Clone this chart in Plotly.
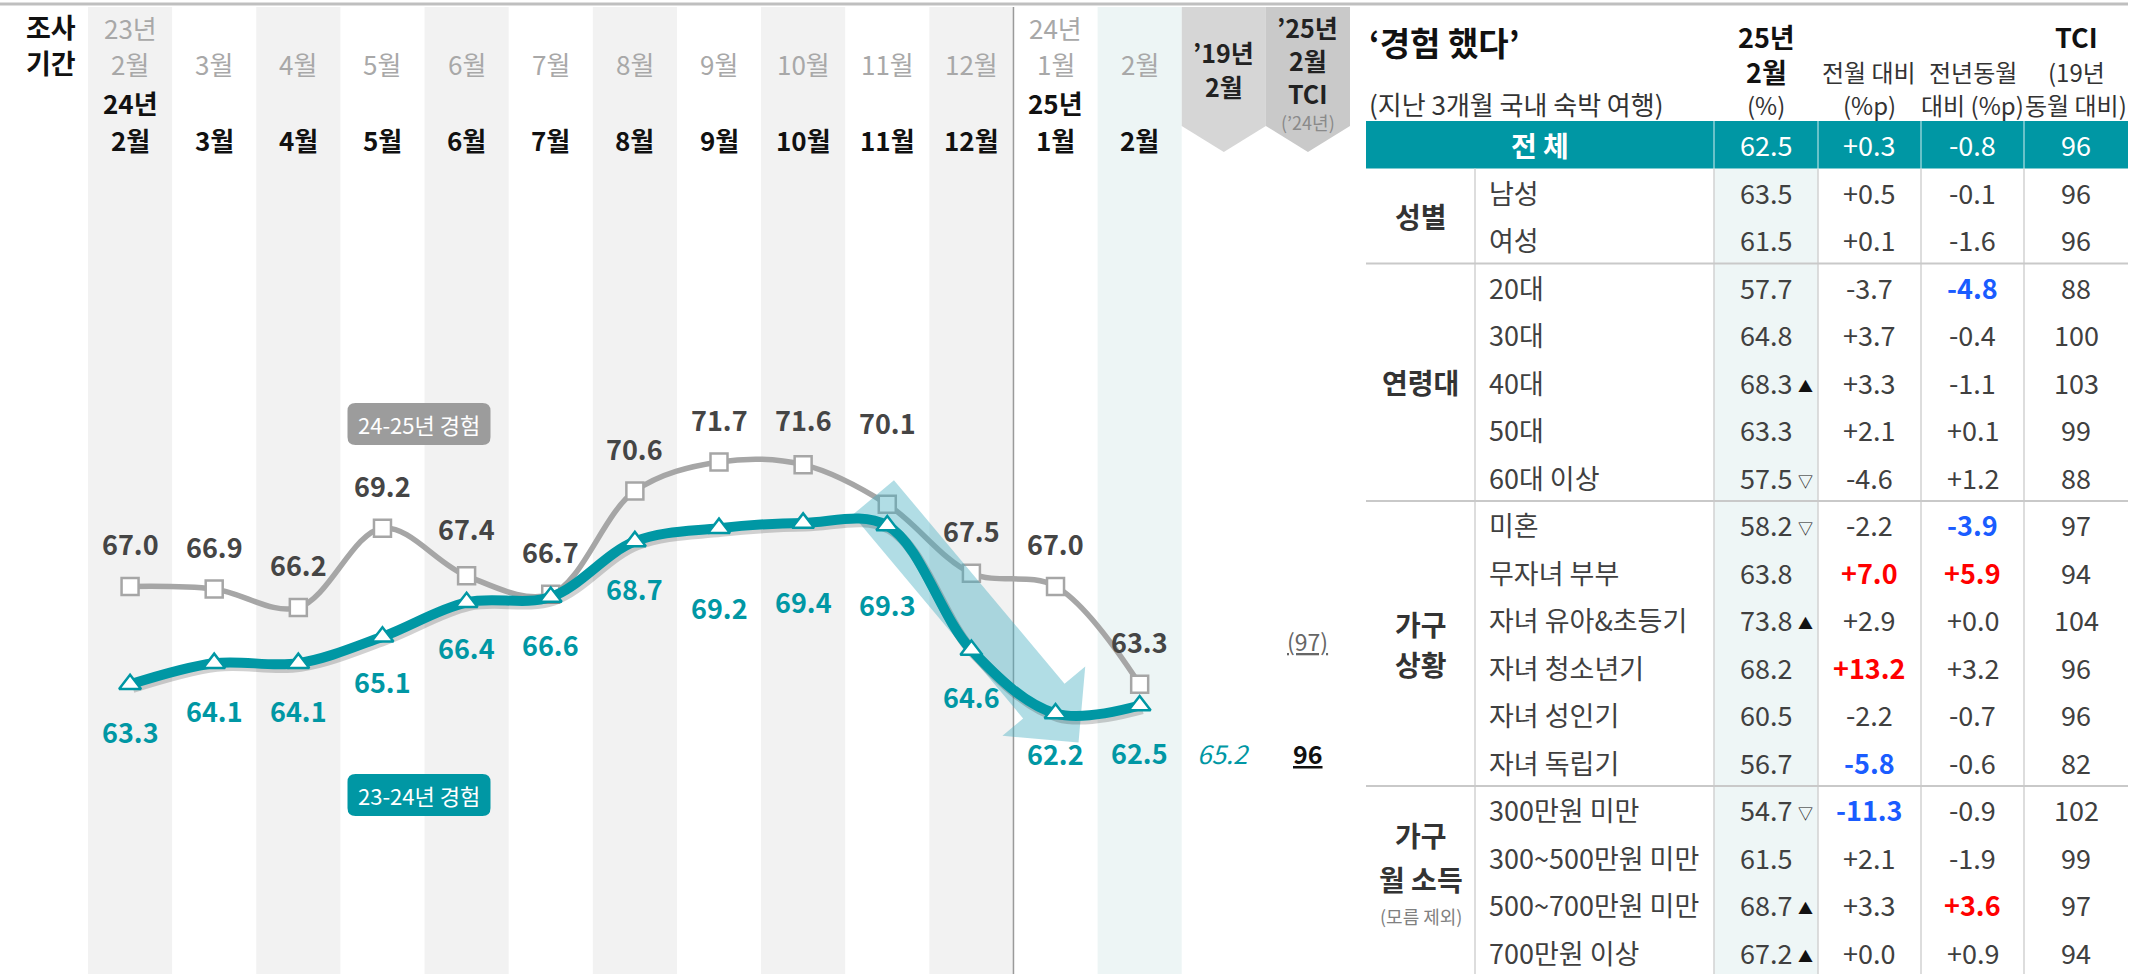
import math
import plotly.graph_objects as go

W, H = 2143, 974
FONT = "Noto Sans CJK KR, Noto Sans, sans-serif"

# ---------------- data ----------------
header_prev = ["23년 2월", "3월", "4월", "5월", "6월", "7월", "8월", "9월", "10월", "11월", "12월", "24년 1월", "2월"]
header_curr = ["24년 2월", "3월", "4월", "5월", "6월", "7월", "8월", "9월", "10월", "11월", "12월", "25년 1월", "2월"]
series_2425 = [67.0, 66.9, 66.2, 69.2, 67.4, 66.7, 70.6, 71.7, 71.6, 70.1, 67.5, 67.0, 63.3]
series_2324 = [63.3, 64.1, 64.1, 65.1, 66.4, 66.6, 68.7, 69.2, 69.4, 69.3, 64.6, 62.2, 62.5]
name_2425 = "24-25년 경험"
name_2324 = "23-24년 경험"
feb2019_value = 65.2
tci_feb25 = 96
tci_feb24 = 97

group_names = ["성별", "연령대", "가구<br>상황", "가구<br>월 소득"]
group_notes = ["", "", "", "(모름 제외)"]
group_sizes = [2, 5, 6, 4]
row_labels = ["남성", "여성", "20대", "30대", "40대", "50대", "60대 이상", "미혼", "무자녀 부부",
              "자녀 유아&초등기", "자녀 청소년기", "자녀 성인기", "자녀 독립기", "300만원 미만",
              "300~500만원 미만", "500~700만원 미만", "700만원 이상"]
feb25 = [63.5, 61.5, 57.7, 64.8, 68.3, 63.3, 57.5, 58.2, 63.8, 73.8, 68.2, 60.5, 56.7, 54.7, 61.5, 68.7, 67.2]
feb25_flag = ["", "", "", "", "▲", "", "▽", "▽", "", "▲", "", "", "", "▽", "", "▲", "▲"]
mom = [0.5, 0.1, -3.7, 3.7, 3.3, 2.1, -4.6, -2.2, 7.0, 2.9, 13.2, -2.2, -5.8, -11.3, 2.1, 3.3, 0.0]
yoy = [-0.1, -1.6, -4.8, -0.4, -1.1, 0.1, 1.2, -3.9, 5.9, 0.0, 3.2, -0.7, -0.6, -0.9, -1.9, 3.6, 0.9]
tci = [96, 96, 88, 100, 103, 99, 88, 97, 94, 104, 96, 96, 82, 102, 99, 97, 94]
total_feb25, total_mom, total_yoy, total_tci = 62.5, 0.3, -0.8, 96

# label offsets in px (negative = above the point)
off_2425 = [-43, -43, -43, -43, -47, -43, -43, -43, -45, -82, -43, -43, -43]
off_2324 = [47, 47, 47, 45, 45, 47, 47, 79, 79, 79, 47, 40, 47]

# ---------------- geometry ----------------
TEAL = "#0097a4"
GRAY = "#a6a6a6"
X0, X1, NCOL = 88, 1350, 15
COLW = (X1 - X0) / NCOL
Y_REF_PX, Y_REF_VAL, PPU = 462.0, 71.7, 26.47
y_hi = Y_REF_VAL + Y_REF_PX / PPU
y_lo = Y_REF_VAL - (H - Y_REF_PX) / PPU


def pxx(x):
    return x / W


def pyy(y):
    return 1 - y / H


def dx(px_):
    return (px_ - X0) / COLW - 0.5


def dy(py_):
    return Y_REF_VAL - (py_ - Y_REF_PX) / PPU


def cx(i):
    return X0 + (i + 0.5) * COLW


def cy(v):
    return Y_REF_PX + (Y_REF_VAL - v) * PPU


annotations = []
shapes = []


def text(xp, yp, s, size=23, color="#222222", bold=False, xanchor="center", yanchor="middle", italic=False):
    if bold:
        s = f"<b>{s}</b>"
    if italic:
        s = f"<i>{s}</i>"
    annotations.append(dict(x=pxx(xp), y=pyy(yp), xref="paper", yref="paper", text=s, showarrow=False,
                            xanchor=xanchor, yanchor=yanchor,
                            font=dict(family=FONT, size=size, color=color)))


def rect(x0, y0, x1, y1, fill, layer="below"):
    shapes.append(dict(type="rect", xref="paper", yref="paper", x0=pxx(x0), x1=pxx(x1), y0=pyy(y1), y1=pyy(y0),
                       fillcolor=fill, line_width=0, layer=layer))


def line(x0, y0, x1, y1, color, width, layer="below"):
    shapes.append(dict(type="line", xref="paper", yref="paper", x0=pxx(x0), x1=pxx(x1), y0=pyy(y0), y1=pyy(y1),
                       line=dict(color=color, width=width), layer=layer))


def rounded_box(xc, yc, w, h, r, fill):
    x0, x1, y0, y1 = xc - w / 2, xc + w / 2, yc - h / 2, yc + h / 2

    def P(x, y):
        return f"{pxx(x)},{pyy(y)}"
    path = (f"M {P(x0 + r, y0)} L {P(x1 - r, y0)} Q {P(x1, y0)} {P(x1, y0 + r)} "
            f"L {P(x1, y1 - r)} Q {P(x1, y1)} {P(x1 - r, y1)} L {P(x0 + r, y1)} "
            f"Q {P(x0, y1)} {P(x0, y1 - r)} L {P(x0, y0 + r)} Q {P(x0, y0)} {P(x0 + r, y0)} Z")
    shapes.append(dict(type="path", xref="paper", yref="paper", path=path, fillcolor=fill,
                       line_width=0, layer="above"))


n = len(header_curr)
TOP = 7
# column shading
for i in range(n):
    if i == n - 1:
        fill = "#edf5f5"
    elif i % 2 == 0:
        fill = "#f2f2f2"
    else:
        continue
    shapes.append(dict(type="rect", xref="x", yref="paper", x0=i - 0.5, x1=i + 0.5, y0=0, y1=pyy(TOP),
                       fillcolor=fill, line_width=0, layer="below"))
shapes.append(dict(type="line", xref="x", yref="paper", x0=n - 2.5, x1=n - 2.5, y0=0, y1=pyy(TOP),
                   line=dict(color="#9a9a9a", width=1.5), layer="below"))

# chevron headers
for ci, col in [(n, "#d6d6d6"), (n + 1, "#c9c9c9")]:
    path = (f"M {ci - 0.5},{pyy(TOP)} L {ci + 0.5},{pyy(TOP)} L {ci + 0.5},{pyy(126)} "
            f"L {ci},{pyy(152)} L {ci - 0.5},{pyy(126)} Z")
    shapes.append(dict(type="path", xref="x", yref="paper", path=path, fillcolor=col, line_width=0, layer="below"))

# top rule
line(0, 4, 2128, 4, "#bfbfbf", 3)

# header texts chart
text(51, 27, "조사", 27, "#111111", True)
text(51, 63, "기간", 27, "#111111", True)
for i in range(n):
    x = cx(i)
    p = header_prev[i].split(" ")
    if len(p) == 2:
        text(x, 28, p[0], 26, "#a8a8a8")
    text(x, 64, p[-1], 26, "#a8a8a8")
    c = header_curr[i].split(" ")
    if len(c) == 2:
        text(x, 102, c[0], 26, "#111111", True)
    text(x, 139, c[-1], 26, "#111111", True)

text(cx(n), 52, "’19년", 25, "#222222", True)
text(cx(n), 86, "2월", 25, "#222222", True)
text(cx(n + 1), 27, "’25년", 25, "#222222", True)
text(cx(n + 1), 60, "2월", 25, "#222222", True)
text(cx(n + 1), 93, "TCI", 25, "#222222", True)
text(cx(n + 1), 122, "(’24년)", 18, "#8a8a8a")

# ---------------- traces ----------------
xs = list(range(n))
fig = go.Figure()
fig.add_trace(go.Scatter(
    x=xs, y=series_2425, mode="lines+markers", hoverinfo="skip",
    line=dict(color=GRAY, width=5.5, shape="spline", smoothing=1),
    marker=dict(symbol="square", size=17, color="white", line=dict(color=GRAY, width=2.5))))

# decorative trend arrow (from the Nov point down to the Jan point)
tail = (cx(9) - 14, cy(series_2324[9]) - 28)
tip = (cx(11) + 23, cy(series_2324[11]) + 29)
ux, uy = tip[0] - tail[0], tip[1] - tail[1]
L = math.hypot(ux, uy)
ux, uy = ux / L, uy / L
nx, ny = -uy, ux
hl, hw, bw = 54, 54, 27
mx, my = tip[0] - hl * ux, tip[1] - hl * uy
poly = [(tail[0] + bw * nx, tail[1] + bw * ny), (mx + bw * nx, my + bw * ny), (mx + hw * nx, my + hw * ny),
        tip, (mx - hw * nx, my - hw * ny), (mx - bw * nx, my - bw * ny), (tail[0] - bw * nx, tail[1] - bw * ny)]
poly.append(poly[0])
fig.add_trace(go.Scatter(x=[dx(p[0]) for p in poly], y=[dy(p[1]) for p in poly], mode="lines", fill="toself",
                         fillcolor="rgba(70,175,192,0.42)", line=dict(width=0), hoverinfo="skip"))

# soft shadow under teal line
fig.add_trace(go.Scatter(
    x=[x + 0.03 for x in xs], y=[v - 0.12 for v in series_2324], mode="lines", hoverinfo="skip",
    line=dict(color="rgba(0,0,0,0.18)", width=11, shape="spline", smoothing=1)))
fig.add_trace(go.Scatter(
    x=xs, y=series_2324, mode="lines+markers", hoverinfo="skip",
    line=dict(color=TEAL, width=10, shape="spline", smoothing=1),
    marker=dict(symbol="triangle-up", size=19, color="white", line=dict(color=TEAL, width=2.5))))

# data labels
for i, v in enumerate(series_2425):
    annotations.append(dict(x=i, y=v, xref="x", yref="y", text=f"<b>{v:.1f}</b>", showarrow=False,
                            xanchor="center", yshift=-off_2425[i],
                            font=dict(family=FONT, size=27, color="#454545")))
for i, v in enumerate(series_2324):
    annotations.append(dict(x=i, y=v, xref="x", yref="y", text=f"<b>{v:.1f}</b>", showarrow=False,
                            xanchor="center", yshift=-off_2324[i],
                            font=dict(family=FONT, size=27, color=TEAL)))
annotations.append(dict(x=n, y=series_2324[-1], xref="x", yref="y", text=f"<i>{feb2019_value:.1f}</i>",
                        showarrow=False, xanchor="center", yshift=-off_2324[-1],
                        font=dict(family=FONT, size=26, color=TEAL)))
annotations.append(dict(x=n + 1, y=series_2324[-1], xref="x", yref="y", text=f"<b><u>{tci_feb25}</u></b>",
                        showarrow=False, xanchor="center", yshift=-off_2324[-1],
                        font=dict(family=FONT, size=25, color="#111111")))
annotations.append(dict(x=n + 1, y=series_2425[-1], xref="x", yref="y", text=f"<u>({tci_feb24})</u>",
                        showarrow=False, xanchor="center", yshift=-off_2425[-1],
                        font=dict(family=FONT, size=23, color="#666666")))

# series name boxes
rounded_box(419, 424, 143, 42, 8, "#9c9c9c")
text(419, 424, name_2425, 22, "white")
rounded_box(419, 795, 143, 42, 8, TEAL)
text(419, 795, name_2324, 22, "white")

# ---------------- table ----------------
TL, TR = 1366, 2128
C_CAT, C_LAB, C1, C2, C3 = 1475, 1714, 1818, 1921, 2024
CENT = [(C_LAB + C1) / 2, (C1 + C2) / 2, (C2 + C3) / 2, (C3 + TR) / 2]
ROW_TOP, ROW_H = 121, 47.5


def rc(i):
    return ROW_TOP + ROW_H * (i + 0.5)


text(TL + 1, 42, "‘경험 했다’", 33, "#111111", True, xanchor="left")
text(TL + 1, 103, "(지난 3개월 국내 숙박 여행)", 26, "#333333", xanchor="left")
text(CENT[0], 37, "25년", 27, "#111111", True)
text(CENT[0], 71, "2월", 27, "#111111", True)
text(CENT[0], 104, "(%)", 24, "#333333")
text(CENT[1], 71, "전월 대비", 24, "#333333")
text(CENT[1], 104, "(%p)", 24, "#333333")
text(CENT[2], 71, "전년동월", 24, "#333333")
text(CENT[2], 104, "대비 (%p)", 24, "#333333")
text(CENT[3], 37, "TCI", 27, "#111111", True)
text(CENT[3], 71, "(19년", 24, "#333333")
text(CENT[3], 104, "동월 대비)", 24, "#333333")

nrows = len(row_labels)
body_top = ROW_TOP + ROW_H
rect(C_LAB, body_top, C1, H, "#eef6f6")
rect(TL, ROW_TOP, TR, body_top, TEAL)
for xv in [C_LAB, C1, C2, C3]:
    line(xv, ROW_TOP, xv, body_top, "rgba(255,255,255,0.55)", 1.5)
for xv in [C_CAT, C_LAB, C1, C2, C3]:
    line(xv, body_top, xv, H, "#d2d2d2", 1.5)

text((TL + C_LAB) / 2, rc(0), "전 체", 28, "white", True)
text(CENT[0], rc(0), f"{total_feb25:.1f}", 27, "white")
text(CENT[1], rc(0), f"{total_mom:+.1f}", 27, "white")
text(CENT[2], rc(0), f"{total_yoy:+.1f}", 27, "white")
text(CENT[3], rc(0), f"{total_tci}", 27, "white")


def chg_color(v, thr):
    if v >= thr:
        return "#ff0000", True
    if v <= -thr:
        return "#1a5cff", True
    return "#404040", False


start = 0
for g, (gname, gnote, gsize) in enumerate(zip(group_names, group_notes, group_sizes)):
    rows = list(range(start + 1, start + gsize + 1))
    ymid = (rc(rows[0]) + rc(rows[-1])) / 2
    parts = gname.split("<br>")
    if gnote:
        ys = [ymid - 46, ymid - 2]
        for s, yv in zip(parts, ys):
            text((TL + C_CAT) / 2, yv, s, 28, "#333333", True)
        text((TL + C_CAT) / 2, ymid + 35, gnote, 18, "#808080")
    elif len(parts) == 2:
        text((TL + C_CAT) / 2, ymid - 20, parts[0], 28, "#333333", True)
        text((TL + C_CAT) / 2, ymid + 20, parts[1], 28, "#333333", True)
    else:
        text((TL + C_CAT) / 2, ymid, gname, 28, "#333333", True)
    if g < len(group_names) - 1:
        yl = ROW_TOP + ROW_H * (start + gsize + 1)
        line(TL, yl, TR, yl, "#c9c9c9", 2.2)
    start += gsize

for k in range(nrows):
    yv = rc(k + 1)
    text(C_CAT + 12, yv, row_labels[k], 27, "#404040", xanchor="left")
    text(CENT[0], yv, f"{feb25[k]:.1f}", 27, "#404040")
    if feb25_flag[k]:
        text(CENT[0] + 39, yv + 3, feb25_flag[k], 15, "#111111")
    col, b = chg_color(mom[k], 5.0)
    text(CENT[1], yv, f"{mom[k]:+.1f}", 27, col, b)
    col, b = chg_color(yoy[k], 3.5)
    text(CENT[2], yv, f"{yoy[k]:+.1f}", 27, col, b)
    text(CENT[3], yv, f"{tci[k]}", 27, "#404040")

fig.update_layout(
    width=W, height=H, margin=dict(l=0, r=0, t=0, b=0),
    paper_bgcolor="white", plot_bgcolor="white", showlegend=False,
    xaxis=dict(domain=[pxx(X0), pxx(X1)], range=[-0.5, NCOL - 0.5], visible=False, fixedrange=True),
    yaxis=dict(domain=[0, 1], range=[y_lo, y_hi], visible=False, fixedrange=True),
    shapes=shapes, annotations=annotations,
    font=dict(family=FONT),
)

fig.write_html("out.html", config={"displayModeBar": False},
               post_script="document.body.style.margin='0';")
